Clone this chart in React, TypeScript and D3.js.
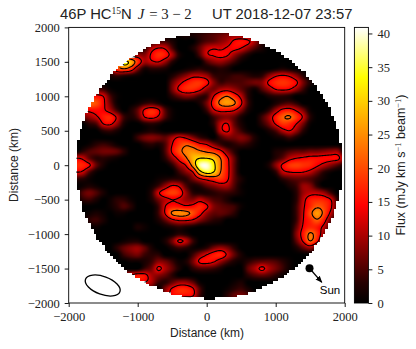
import * as d3 from "d3";
import { useEffect, useRef } from "react";

// flux, on a 100 km grid: [y/100, first x/100, values going right]
const fluxRuns: [number, number, number[]][] = [
  [19, -4, [1, 2, 2, 3, 4, 5, 6, 7, 7, 6, 3, 1]],
  [18, -8, [2, 4, 4, 2]],
  [18, -1, [3, 5, 6, 8, 10, 14, 15.5, 14, 9, 3]],
  [17, -9, [3, 10, 13, 12, 5]],
  [17, -2, [2, 6, 11, 12.5, 12, 13.5, 14.5, 13, 9, 5, 2]],
  [16, -12, [5, 8, 9, 8, 14, 17.5, 16, 10, 2]],
  [16, -1, [5, 12, 13.5, 14.5, 13.5, 9, 5, 2]],
  [15, -14, [6, 16, 33, 28, 18, 10, 12, 13, 9, 3]],
  [15, 0, [5, 8, 9, 7, 4, 1]],
  [14, -14, [6, 18, 22, 18, 8, 2, 3, 3, 2]],
  [14, -3, [1, 2, 3, 2, 2, 3, 2]],
  [14, 10, [1, 2, 1]],
  [13, -14, [2, 4, 3, 2, 1]],
  [13, -5, [2, 5, 8, 11, 11, 9, 4, 3, 3, 4, 4, 3, 2, 3, 8, 12, 13.5, 12, 8, 3]],
  [12, -5, [6, 11, 15, 17.5, 18, 15, 8, 4, 5, 5, 5, 6, 7, 8, 14, 17, 18, 17, 14, 7, 2]],
  [11, -17, [2, 5, 4, 1]],
  [11, -5, [7, 14, 17, 17, 14.5, 9, 7, 10, 11, 9, 6, 3, 1, 5, 9, 13, 14, 13, 9, 4]],
  [10, -18, [8, 14, 15, 13, 5, 1]],
  [10, -5, [3, 6, 8, 7, 4, 4, 13, 19, 22, 17, 11, 3, 0, 0, 2, 3, 3, 2]],
  [9, -19, [8, 14, 21, 20, 14.5, 7, 1]],
  [9, -10, [1, 3, 4, 2]],
  [9, -1, [2, 7, 16, 23.5, 26, 23, 14, 4, 0, 0, 0, 2, 4, 5, 3]],
  [8, -19, [8, 12, 14.5, 15, 14, 10, 4]],
  [8, -11, [2, 6, 14, 17, 14, 5, 1]],
  [8, 0, [4, 12, 15, 15, 13.5, 8, 2]],
  [8, 9, [3, 9, 14.5, 15.5, 12, 7, 1]],
  [7, -18, [6, 9, 12, 16, 17, 12, 4, 2, 5, 13, 15, 12, 5, 1]],
  [7, 1, [4, 7, 8, 6, 2]],
  [7, 8, [4, 9, 16, 21, 22.5, 18, 12, 3]],
  [6, -17, [3, 5, 13, 14, 9, 2]],
  [6, -9, [2, 3, 2]],
  [6, 1, [3, 11, 13.3, 6, 2]],
  [6, 8, [3, 7, 13.5, 18, 17, 13, 7, 1]],
  [5, -15, [3, 4, 2]],
  [5, -9, [1, 2, 1]],
  [5, 1, [1, 11, 13.8, 8, 4, 1]],
  [5, 9, [2, 5, 10.5, 13, 9, 3]],
  [4, -10, [4, 7, 8, 7, 6, 10, 14, 12, 8, 4, 2]],
  [4, 2, [4, 7, 7, 8, 6, 2]],
  [4, 10, [1, 2, 4, 2]],
  [3, -17, [1, 3, 4, 3, 1]],
  [3, -9, [2, 3, 2, 5, 13, 18, 21, 19, 15, 13, 8, 4, 2, 3, 4, 3, 1]],
  [2, -18, [3, 5, 6, 7, 7, 6, 3]],
  [2, -6, [5, 14, 20, 24, 25, 23, 21, 19, 15, 8, 3]],
  [2, 10, [2, 3, 5, 6, 6, 7, 7, 8, 9, 9]],
  [1, -20, [10, 13, 12, 6, 3, 3, 2, 1]],
  [1, -6, [3, 9, 15, 21, 28, 31, 31, 29, 22, 14, 6]],
  [1, 10, [3, 6, 11, 13, 14, 15, 15, 15, 15, 14.5, 8]],
  [0, -20, [14, 17, 17, 14, 6, 2]],
  [0, -5, [3, 9, 13.5, 25, 38, 40, 33, 23, 15, 6]],
  [0, 9, [2, 8, 14, 18, 19, 18, 17, 14, 11, 8, 5, 2]],
  [-1, -20, [12, 13, 12, 5, 1]],
  [-1, -4, [4, 8, 13, 28, 34, 31, 22, 15, 6]],
  [-1, 10, [3, 11, 13, 13.5, 13, 11, 7, 3, 1]],
  [-2, -19, [3, 3, 1]],
  [-2, -7, [1, 2, 3, 3, 3, 7, 12, 15, 17, 18, 14, 6, 2]],
  [-2, 11, [3, 5, 6, 6, 5, 3, 1]],
  [-3, -18, [1, 2, 1]],
  [-3, -8, [1, 4, 9, 13.5, 12, 5, 2, 3, 6, 8, 10, 10, 5, 1]],
  [-3, 12, [2, 4, 9, 8, 3]],
  [-4, -18, [5, 7, 5, 2]],
  [-4, -8, [3, 12, 17, 19, 17, 9, 3, 2, 2, 3, 4, 4, 3, 1]],
  [-4, 13, [3, 9, 11, 11, 9, 4]],
  [-5, -18, [3, 4, 2]],
  [-5, -14, [1, 3, 3, 1]],
  [-5, -8, [2, 7, 11, 13, 12, 9, 8, 11, 8, 5, 4, 2]],
  [-5, 13, [3, 11, 16, 17, 16.5, 13, 3]],
  [-6, -14, [1, 3, 5, 3]],
  [-6, -7, [4, 13, 16, 15.5, 14, 15, 17, 14, 8, 6, 5, 4, 1]],
  [-6, 13, [4, 12, 17, 21, 19, 14, 4]],
  [-7, -17, [1, 2, 1]],
  [-7, -13, [1, 1]],
  [-7, -7, [4, 13.5, 23, 25, 24, 20, 15, 9, 6, 6, 5, 3]],
  [-7, 13, [4, 12.5, 20, 26, 20, 11, 2]],
  [-8, -17, [3, 4, 2]],
  [-8, -7, [2, 6, 11, 13.5, 13.5, 12, 8, 5, 3, 2]],
  [-8, 13, [4, 13, 17, 21, 15.5, 6, 1]],
  [-9, -16, [1]],
  [-9, -10, [2, 1]],
  [-9, -6, [1, 2, 3, 2, 1]],
  [-9, 13, [6, 14, 17, 16, 11, 3]],
  [-10, -5, [1, 3, 2]],
  [-10, 13, [8, 16, 23, 18, 8, 1]],
  [-11, -12, [1, 2, 2]],
  [-11, -6, [2, 7, 14, 11, 4]],
  [-11, 13, [6, 14, 22, 15, 4]],
  [-12, -13, [3, 6, 8, 9, 6, 2]],
  [-12, -5, [2, 4, 3, 1, 1, 3, 7, 9, 7, 3]],
  [-12, 13, [2, 6, 9, 4, 1]],
  [-13, -12, [4, 6, 7, 4, 3, 3]],
  [-13, -2, [4, 9, 13, 16, 17, 12, 6, 2]],
  [-14, -11, [1, 1, 2, 4, 8, 7, 4, 1, 2, 7, 14, 15, 13.5, 9, 5, 2, 1, 3, 5, 6, 6, 5, 3, 1]],
  [-15, -9, [4, 7, 14, 10, 6, 2]],
  [-15, -2, [3, 5, 5, 4, 2]],
  [-15, 6, [6, 10, 14.2, 10, 7, 4, 1]],
  [-16, -12, [8, 13, 16, 15, 10, 8, 6, 3]],
  [-16, 6, [3, 5, 6, 5, 3, 1]],
  [-17, -11, [9, 13, 13, 10, 4, 3, 6, 9, 9, 6, 1]],
  [-17, 4, [1, 2]],
  [-18, -10, [4, 5, 4]],
  [-18, -6, [8, 14, 17, 17, 14, 5]],
  [-18, 3, [1, 3, 4, 2]],
  [-19, -6, [7, 13, 14, 14, 13, 4]],
  [-19, 3, [3, 6, 7, 5, 2]],
];

const axisTicks = [-2000, -1000, 0, 1000, 2000];
const yAxisTicks = [-2000, -1500, -1000, -500, 0, 500, 1000, 1500, 2000];
const fluxTicks = [0, 5, 10, 15, 20, 25, 30, 35, 40];
const contourLevels = [13, 22, 31];
const fluxMax = 40.9;
const colorStops = [0, 3, 5, 10, 14.5, 33.5, fluxMax];
const colorRange = ["#000000", "#260000", "#4c0000", "#aa0000", "#ff0000", "#ffff00", "#ffffff"];
const disc = { x: 38, y: -10, r: 1932, cell: 40 };
const beam = { x: -1507, y: -1746, rx: 18.3, ry: 9, angle: 20 };
const sun = { from: [1490, -1495], to: [1668, -1700], label: [1935, -1870] };

const GRID = 41;
const FINE = 201;

function buildGrid() {
  const grid = new Float64Array(GRID * GRID);
  fluxRuns.forEach(([row, start, values]) => {
    values.forEach((v, i) => {
      const col = start + i + 20;
      if (col >= 0 && col < GRID) grid[(20 - row) * GRID + col] = v;
    });
  });
  return grid;
}

function catmull(a: number, b: number, c: number, d: number, t: number) {
  return 0.5 * (2 * b + (c - a) * t + (2 * a - 5 * b + 4 * c - d) * t * t + (3 * b - a - 3 * c + d) * t * t * t);
}

// bicubic lookup in km, what imshow would do with the coarse grid
function sampler(grid: Float64Array) {
  const at = (r: number, c: number) =>
    grid[Math.max(0, Math.min(GRID - 1, r)) * GRID + Math.max(0, Math.min(GRID - 1, c))];
  return (x: number, y: number) => {
    const fx = (x + 2000) / 100;
    const fy = (2000 - y) / 100;
    const c = Math.min(GRID - 2, Math.floor(fx));
    const r = Math.min(GRID - 2, Math.floor(fy));
    const rows = [-1, 0, 1, 2].map((dr) =>
      catmull(at(r + dr, c - 1), at(r + dr, c), at(r + dr, c + 1), at(r + dr, c + 2), fx - c)
    );
    return Math.max(0, catmull(rows[0], rows[1], rows[2], rows[3], fy - r));
  };
}

function drawChart(svgElement: SVGSVGElement) {
  const serif = "'Liberation Serif', serif";
  const sans = "'Liberation Sans', sans-serif";
  const svg = d3.select(svgElement);
  svg.selectAll("*").remove();

  const x = d3.scaleLinear().domain([-2000, 2000]).range([68.7, 344.7]);
  const y = d3.scaleLinear().domain([-2000, 2000]).range([303, 27.4]);
  const color = d3.scaleLinear<string>().domain(colorStops).range(colorRange).clamp(true);

  const flux = sampler(buildGrid());

  // image
  const canvas = document.createElement("canvas");
  const left = 68;
  const top = 27;
  canvas.width = 278;
  canvas.height = 277;
  const ctx = canvas.getContext("2d")!;
  const img = ctx.createImageData(canvas.width, canvas.height);
  for (let py = 0; py < canvas.height; py++) {
    for (let px = 0; px < canvas.width; px++) {
      const kx = x.invert(left + px + 0.5);
      const ky = y.invert(top + py + 0.5);
      const cx = (Math.floor((kx + 2000) / disc.cell) + 0.5) * disc.cell - 2000;
      const cy = (Math.floor((ky + 2000) / disc.cell) + 0.5) * disc.cell - 2000;
      if (Math.hypot(cx - disc.x, cy - disc.y) > disc.r) continue;
      const c = d3.rgb(color(flux(kx, ky)));
      const k = (py * canvas.width + px) * 4;
      img.data[k] = c.r;
      img.data[k + 1] = c.g;
      img.data[k + 2] = c.b;
      img.data[k + 3] = 255;
    }
  }
  ctx.putImageData(img, 0, 0);
  svg
    .append("image")
    .attr("x", left)
    .attr("y", top)
    .attr("width", canvas.width)
    .attr("height", canvas.height)
    .attr("href", canvas.toDataURL());

  // contours
  const fine = new Float64Array(FINE * FINE);
  for (let r = 0; r < FINE; r++) {
    for (let c = 0; c < FINE; c++) fine[r * FINE + c] = flux(-2000 + c * 20, 2000 - r * 20);
  }
  const contours = d3.contours().size([FINE, FINE]).thresholds(contourLevels)(Array.from(fine));
  const project = d3.geoTransform({
    point(px: number, py: number) {
      this.stream.point(x(-2000 + (px - 0.5) * 20), y(2000 - (py - 0.5) * 20));
    },
  });
  svg
    .append("clipPath")
    .attr("id", "disc")
    .append("circle")
    .attr("cx", x(disc.x))
    .attr("cy", y(disc.y))
    .attr("r", x(disc.r) - x(0));
  svg
    .append("g")
    .attr("clip-path", "url(#disc)")
    .selectAll("path")
    .data(contours)
    .join("path")
    .attr("d", d3.geoPath(project) as any)
    .attr("fill", "none")
    .attr("stroke", "#000")
    .attr("stroke-width", 1.1);

  // beam
  svg
    .append("ellipse")
    .attr("transform", `translate(${x(beam.x)},${y(beam.y)}) rotate(${beam.angle})`)
    .attr("rx", beam.rx)
    .attr("ry", beam.ry)
    .attr("fill", "none")
    .attr("stroke", "#000")
    .attr("stroke-width", 1.3);

  // sun marker
  const defs = svg.append("defs");
  defs
    .append("marker")
    .attr("id", "head")
    .attr("viewBox", "0 0 10 10")
    .attr("refX", 9)
    .attr("refY", 5)
    .attr("markerUnits", "userSpaceOnUse")
    .attr("markerWidth", 7)
    .attr("markerHeight", 7)
    .attr("orient", "auto")
    .append("path")
    .attr("d", "M0,1L10,5L0,9Z")
    .attr("fill", "#000");
  svg
    .append("line")
    .attr("x1", x(sun.from[0]))
    .attr("y1", y(sun.from[1]))
    .attr("x2", x(sun.to[0]))
    .attr("y2", y(sun.to[1]))
    .attr("stroke", "#000")
    .attr("stroke-width", 1.3)
    .attr("marker-end", "url(#head)");
  svg
    .append("circle")
    .attr("cx", x(sun.from[0]))
    .attr("cy", y(sun.from[1]))
    .attr("r", 4)
    .attr("fill", "#000");
  svg
    .append("text")
    .attr("x", x(sun.label[0]))
    .attr("y", y(sun.label[1]))
    .attr("text-anchor", "end")
    .attr("font-family", sans)
    .attr("font-size", 11.5)
    .text("Sun");

  // axes
  const styleAxis = (g: any) => {
    g.selectAll("text").attr("font-family", serif).attr("font-size", 12.5).attr("fill", "#222");
    g.selectAll("line").attr("stroke-width", 0.9);
    g.select(".domain").remove();
  };
  svg
    .append("g")
    .attr("transform", "translate(0,303)")
    .call(d3.axisBottom(x).tickValues(axisTicks).tickFormat(d3.format("d") as any).tickSize(4).tickPadding(5))
    .call(styleAxis);
  svg
    .append("g")
    .attr("transform", "translate(68.7,0)")
    .call(d3.axisLeft(y).tickValues(yAxisTicks).tickFormat(d3.format("d") as any).tickSize(4).tickPadding(5))
    .call(styleAxis);
  svg
    .append("rect")
    .attr("x", 68.7)
    .attr("y", 27.4)
    .attr("width", 276)
    .attr("height", 275.6)
    .attr("fill", "none")
    .attr("stroke", "#000")
    .attr("stroke-width", 0.9);

  // colorbar
  const cb = d3.scaleLinear().domain([0, fluxMax]).range([303, 27.4]);
  const gradient = defs
    .append("linearGradient")
    .attr("id", "flux")
    .attr("x1", 0)
    .attr("x2", 0)
    .attr("y1", 1)
    .attr("y2", 0);
  colorStops.forEach((v, i) => {
    gradient
      .append("stop")
      .attr("offset", v / fluxMax)
      .attr("stop-color", colorRange[i]);
  });
  svg
    .append("rect")
    .attr("x", 354.4)
    .attr("y", 27.4)
    .attr("width", 14)
    .attr("height", 275.6)
    .attr("fill", "url(#flux)")
    .attr("stroke", "#000")
    .attr("stroke-width", 0.9);
  svg
    .append("g")
    .attr("transform", "translate(368.4,0)")
    .call(d3.axisRight(cb).tickValues(fluxTicks).tickSize(4).tickPadding(5))
    .call(styleAxis);

  // titles
  const title = svg
    .append("text")
    .attr("x", 60)
    .attr("y", 19)
    .attr("font-family", sans)
    .attr("font-size", 14.8)
    .attr("fill", "#222");
  title.append("tspan").text("46P HC");
  title.append("tspan").attr("font-family", serif).attr("font-size", 9.5).attr("dy", -5).text("15");
  title.append("tspan").attr("dy", 5).text("N ");
  title.append("tspan").attr("font-family", serif).attr("font-style", "italic").attr("dx", 2).text("J");
  title.append("tspan").attr("font-family", serif).attr("dx", 1).text(" = 3 − 2");
  title.append("tspan").attr("x", 212).text("UT 2018-12-07 23:57");

  svg
    .append("text")
    .attr("x", 207)
    .attr("y", 337)
    .attr("text-anchor", "middle")
    .attr("font-family", sans)
    .attr("font-size", 12)
    .attr("fill", "#222")
    .text("Distance (km)");
  svg
    .append("text")
    .attr("transform", "translate(18,165) rotate(-90)")
    .attr("text-anchor", "middle")
    .attr("font-family", sans)
    .attr("font-size", 12)
    .attr("fill", "#222")
    .text("Distance (km)");
  const cbLabel = svg
    .append("text")
    .attr("transform", "translate(405,165) rotate(-90)")
    .attr("text-anchor", "middle")
    .attr("font-family", sans)
    .attr("font-size", 12.5)
    .attr("fill", "#222");
  cbLabel.append("tspan").text("Flux (mJy km s");
  cbLabel.append("tspan").attr("font-family", serif).attr("font-size", 8.5).attr("dy", -4).text("−1");
  cbLabel.append("tspan").attr("dy", 4).text(" beam");
  cbLabel.append("tspan").attr("font-family", serif).attr("font-size", 8.5).attr("dy", -4).text("−1");
  cbLabel.append("tspan").attr("dy", 4).text(")");
}

export default function App() {
  const ref = useRef<SVGSVGElement>(null);
  useEffect(() => {
    drawChart(ref.current!);
  }, []);
  return (
    <svg
      ref={ref}
      width={416}
      height={349}
      style={{ position: "absolute", left: 0, top: 0, background: "#fff" }}
    />
  );
}
